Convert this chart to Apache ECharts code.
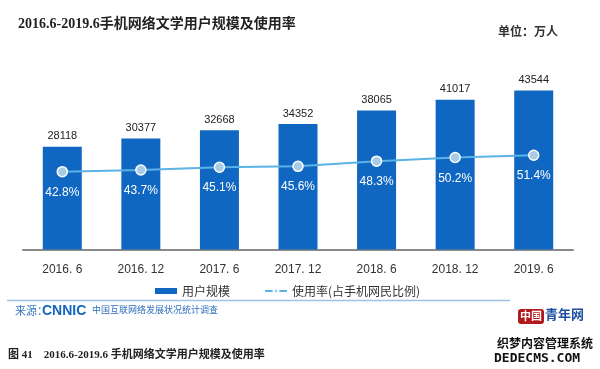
<!DOCTYPE html>
<html>
<head>
<meta charset="utf-8">
<script src="https://cdn.jsdelivr.net/npm/echarts@6/dist/echarts.min.js"></script>
<style>
html,body{margin:0;padding:0;background:#fff;}
#c{width:600px;height:369px;}
</style>
</head>
<body>
<div id="c"></div>
<script>
const categories = ['2016. 6','2016. 12','2017. 6','2017. 12','2018. 6','2018. 12','2019. 6'];
const userScale = [28118, 30377, 32668, 34352, 38065, 41017, 43544];
const usageRate = [42.8, 43.7, 45.1, 45.6, 48.3, 50.2, 51.4];
const seriesNames = ['用户规模', '使用率(占手机网民比例)'];

const chart = echarts.init(document.getElementById('c'));
const serif = "'Liberation Serif','DejaVu Serif','Noto Sans CJK SC',serif";
const sans = "'Liberation Sans',Arial,'Noto Sans CJK SC',sans-serif";

chart.setOption({
  backgroundColor: '#ffffff',
  animation: false,
  title: {
    text: '2016.6-2019.6手机网络文学用户规模及使用率',
    left: 13, top: 12,
    textStyle: {fontFamily: serif, fontSize: 14, fontWeight: 'bold', color: '#222'}
  },
  legend: {
    left: 150, top: 280,
    itemWidth: 22, itemHeight: 6, itemGap: 34,
    textStyle: {fontFamily: "'Noto Sans CJK SC',sans-serif", fontSize: 12, color: '#333'},
    data: [
      {name: seriesNames[0], icon: 'rect'},
      {name: seriesNames[1]}
    ]
  },
  grid: {left: 23, right: 27, top: 30.5, bottom: 369 - 249.5},
  xAxis: {
    type: 'category',
    data: categories,
    axisLine: {lineStyle: {color: '#8a8a8a', width: 2}},
    axisTick: {show: false},
    axisLabel: {fontFamily: sans, fontSize: 12, color: '#333', margin: 14}
  },
  yAxis: [
    {type: 'value', min: 0, max: 60000, show: false, splitLine: {show: false}},
    {type: 'value', min: 2, max: 116.8, show: false, splitLine: {show: false}}
  ],
  series: [
    {
      name: seriesNames[0],
      type: 'bar',
      data: userScale,
      barWidth: 39,
      itemStyle: {color: '#0f67c2'},
      label: {show: true, position: 'top', distance: 5, fontFamily: sans, fontSize: 11, color: '#222'}
    },
    {
      name: seriesNames[1],
      type: 'line',
      yAxisIndex: 1,
      data: usageRate,
      symbol: 'circle',
      symbolSize: 10,
      lineStyle: {color: '#5cb3e6', width: 2},
      itemStyle: {color: '#a8cbe8', borderColor: '#ffffff', borderWidth: 1.5},
      label: {
        show: true, position: 'bottom', distance: 9,
        formatter: p => p.value.toFixed(1) + '%',
        fontFamily: sans, fontSize: 12, color: '#ffffff'
      },
      z: 5
    }
  ],
  graphic: [
    {type: 'text', left: 498, top: 25, style: {text: '单位：万人', font: "bold 12px 'Noto Sans CJK SC',sans-serif", fill: '#333'}},
    {type: 'line', shape: {x1: 7, y1: 300.5, x2: 510, y2: 300.5}, style: {stroke: '#9fc3e6', lineWidth: 1.5}},
    {type: 'text', left: 15, top: 305, style: {text: '来源：', font: "11px 'Noto Sans CJK SC',sans-serif", fill: '#3a78c2'}},
    {type: 'text', left: 42, top: 304, style: {text: 'CNNIC', font: "bold 14px 'Liberation Sans',Arial,sans-serif", fill: '#1266c0'}},
    {type: 'text', left: 92, top: 305, style: {text: '中国互联网络发展状况统计调查', font: "9px 'Noto Sans CJK SC',sans-serif", fill: '#2f6fbd'}},
    {type: 'text', left: 8, top: 350, style: {text: '图 41    2016.6-2019.6 手机网络文学用户规模及使用率', font: "bold 11px " + serif, fill: '#222'}},
    {type: 'rect', shape: {x: 518, y: 309, width: 26, height: 15, r: 3}, style: {fill: '#b3191c'}},
    {type: 'text', left: 520, top: 310, style: {text: '中国', font: "bold 11px 'Noto Sans CJK SC',sans-serif", fill: '#ffffff'}},
    {type: 'text', left: 545, top: 308, style: {text: '青年网', font: "bold 13px 'Noto Sans CJK SC',sans-serif", fill: '#1c4fa1'}},
    {type: 'text', left: 496, top: 336, style: {text: '织梦内容管理系统', font: "bold 12px 'Noto Sans CJK SC',sans-serif", fill: '#111', stroke: '#fff', lineWidth: 2}},
    {type: 'text', left: 493, top: 351, style: {text: 'DEDECMS.COM', font: "bold 13px 'DejaVu Sans Mono',monospace", fill: '#111', stroke: '#fff', lineWidth: 2}}
  ]
});
</script>
</body>
</html>
